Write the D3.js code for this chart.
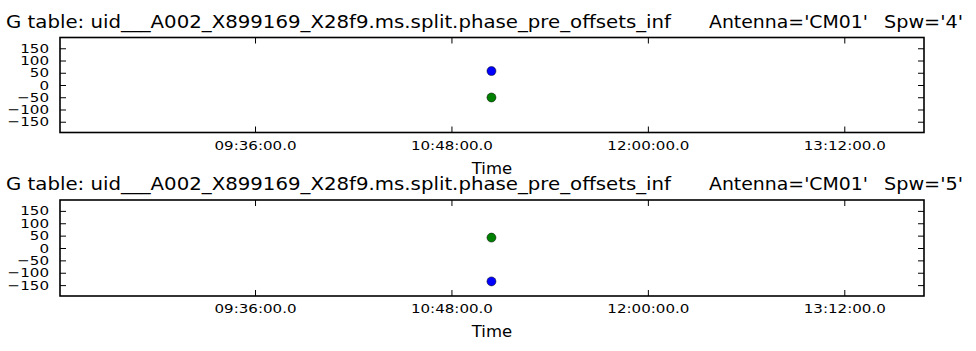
<!DOCTYPE html>
<html><head><meta charset="utf-8">
<script src="https://cdn.jsdelivr.net/npm/d3@7"></script>
<style>
body{margin:0;background:#fff;}
svg{display:block;font-family:"DejaVu Sans",sans-serif;}
</style></head>
<body><svg id="c" width="976" height="351"></svg>
<script>
// ---- data ----
const titleMain = "G table: uid___A002_X899169_X28f9.ms.split.phase_pre_offsets_inf";
const antennas = ["Antenna='CM01'", "Antenna='CM01'"];
const spws = ["Spw='4'", "Spw='5'"];
const pointTimes = ["11:02:40", "11:02:40"];
const blueValues = [57, -135];
const greenValues = [-51, 42];
const xTickLabels = ["09:36:00", "10:48:00", "12:00:00", "13:12:00"];
const xDomain = ["08:24:31", "13:41:13"];
const yTickValues = [150, 100, 50, 0, -50, -100, -150];
const yDomain = [-194, 194];
const xLabel = "Time";

const parse = s => new Date("2013-01-01T" + s + "Z");
const svg = d3.select("#c");
const left = 60, right = 924;
const tops = [37.5, 200], heights = [95, 96];

const x = d3.scaleUtc().domain(xDomain.map(parse)).range([left, right]);

function stretch(sel, f) {
  sel.each(function(){ const w = this.getComputedTextLength(); d3.select(this).attr("textLength", w*f).attr("lengthAdjust","spacingAndGlyphs"); });
}

[0,1].forEach(i => {
  const top = tops[i], h = heights[i];
  const y = d3.scaleLinear().domain(yDomain).range([top + h, top]);
  const g = svg.append("g");

  // title
  const tb = top - 10;
  g.append("text").attr("x", 6).attr("y", tb).attr("font-size", 17).attr("fill", "#000")
    .attr("textLength", 665).attr("lengthAdjust", "spacingAndGlyphs").text(titleMain);
  g.append("text").attr("x", 709).attr("y", tb).attr("font-size", 17).attr("fill", "#000")
    .attr("textLength", 159).attr("lengthAdjust", "spacingAndGlyphs").text(antennas[i]);
  g.append("text").attr("x", 884).attr("y", tb).attr("font-size", 17).attr("fill", "#000")
    .attr("textLength", 79).attr("lengthAdjust", "spacingAndGlyphs").text(spws[i]);

  // axes
  const xb = g.append("g").attr("transform", `translate(0,${top + h})`)
    .call(d3.axisBottom(x).tickValues(xTickLabels.map(parse)).tickFormat(d => d3.utcFormat("%H:%M:%S")(d) + ".0")
      .tickSizeInner(-6).tickSizeOuter(0).tickPadding(8));
  const xt = g.append("g").attr("transform", `translate(0,${top})`)
    .call(d3.axisTop(x).tickValues(xTickLabels.map(parse)).tickFormat("").tickSizeInner(-6).tickSizeOuter(0));
  const yl = g.append("g").attr("transform", `translate(${left},0)`)
    .call(d3.axisLeft(y).tickValues(yTickValues).tickFormat(d3.format("d")).tickSizeInner(-6).tickSizeOuter(0).tickPadding(11));
  const yr = g.append("g").attr("transform", `translate(${right},0)`)
    .call(d3.axisRight(y).tickValues(yTickValues).tickFormat("").tickSizeInner(-6).tickSizeOuter(0));
  [xb, xt, yl, yr].forEach(a => { a.select(".domain").remove(); a.selectAll("line").attr("stroke", "#000").attr("stroke-width", 1); });
  xb.selectAll("text").attr("font-size", 12.8).attr("font-family", "DejaVu Sans").attr("fill", "#000")
    .attr("textLength", 82).attr("lengthAdjust", "spacingAndGlyphs");
  yl.selectAll("text").attr("font-size", 12.8).attr("font-family", "DejaVu Sans").attr("fill", "#000");
  stretch(yl.selectAll("text"), 1.18);

  // frame
  g.append("rect").attr("x", left).attr("y", top).attr("width", right - left).attr("height", h)
    .attr("fill", "none").attr("stroke", "#000").attr("stroke-width", 1.6);

  // points
  g.append("circle").attr("cx", x(parse(pointTimes[i]))).attr("cy", y(blueValues[i])).attr("r", 4.5)
    .attr("fill", "#0000ff").attr("stroke", "#000").attr("stroke-width", 0.5);
  g.append("circle").attr("cx", x(parse(pointTimes[i]))).attr("cy", y(greenValues[i])).attr("r", 4.5)
    .attr("fill", "#008000").attr("stroke", "#000").attr("stroke-width", 0.5);

  // x label
  g.append("text").attr("x", (left + right) / 2).attr("y", top + h + 41).attr("text-anchor", "middle")
    .attr("font-size", 16.5).attr("fill", "#000").text(xLabel);
});
</script></body></html>
